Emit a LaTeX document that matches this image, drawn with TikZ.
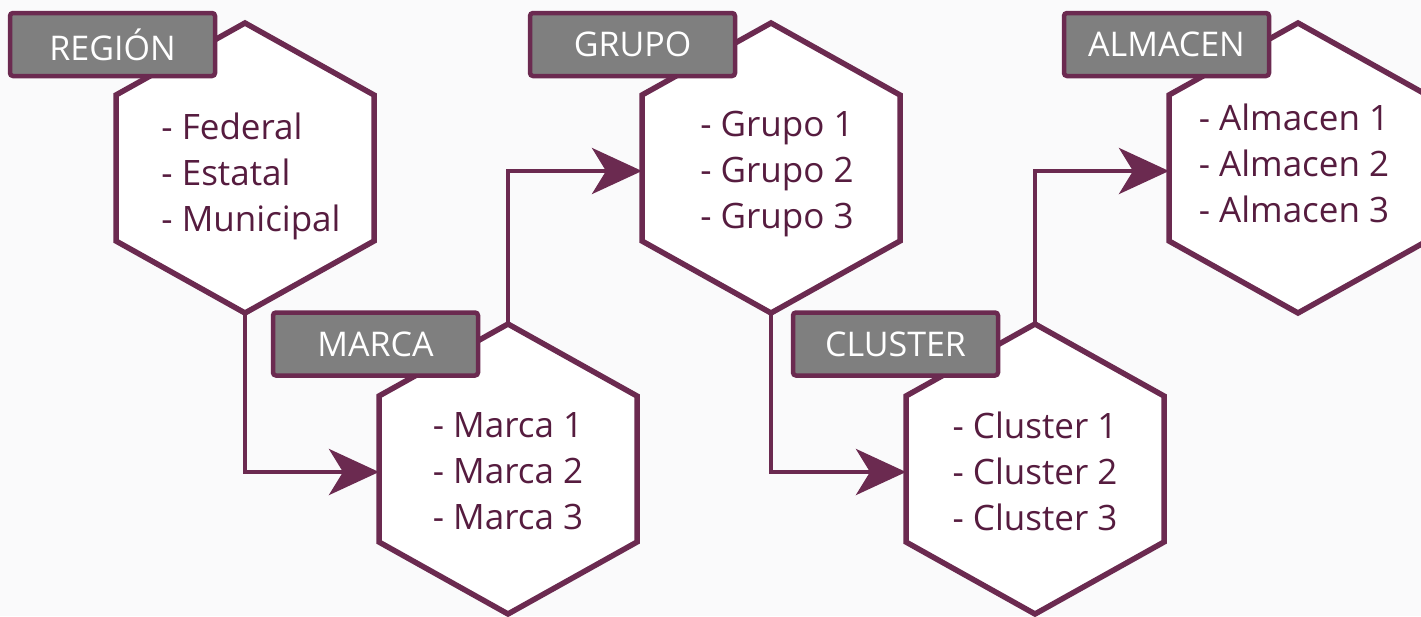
\documentclass[tikz,border=0pt]{standalone}
\usepackage{fontspec}
\setmainfont{Open Sans}
\usetikzlibrary{arrows.meta,calc}
\definecolor{plum}{HTML}{6B2A50}
\definecolor{plumtext}{HTML}{561C3F}
\definecolor{labelgray}{HTML}{7F7F7F}
\definecolor{bgcol}{HTML}{FAFAFB}
\newcommand\hexcell[3]{%
  \path[hexline] (#2,#3) +(0,-145) coordinate (#1-n) -- +(129,-73) -- +(129,73)
    -- +(0,145) coordinate (#1-s) -- +(-129,73) -- +(-129,-73) -- cycle;
  \coordinate (#1-w) at ($(#2,#3)+(-129,3)$);}
\begin{document}
\begin{tikzpicture}[x=1pt,y=-1pt,
  hexline/.style={draw=plum, line width=5.5pt, fill=white, line join=miter},
  hextext/.style={text=plumtext, font=\fontsize{35}{46}\selectfont, align=left, inner sep=0pt},
  tag/.style={draw=plum, line width=4.5pt, fill=labelgray, rounded corners=3pt,
    minimum width=205pt, minimum height=63pt, inner sep=0pt, text=white,
    font=\fontsize{34}{40}\selectfont},
  conn/.style={draw=plum, line width=4.5pt, -{Stealth[length=50pt,width=46pt,inset=14pt]}}]
\fill[bgcol] (0,0) rectangle (1421,616);
\useasboundingbox (0,0) rectangle (1421,616);
\clip (0,0) rectangle (1421,616);
% hexagons
\hexcell{h1}{245}{168}
\hexcell{h2}{508}{469}
\hexcell{h3}{771}{168}
\hexcell{h4}{1035}{469}
\hexcell{h5}{1298}{168}
% connectors
\draw[conn] (h1-s) |- (h2-w);
\draw[conn] (h2-n) |- (h3-w);
\draw[conn] (h3-s) |- (h4-w);
\draw[conn] (h4-n) |- (h5-w);
% texts
\node[hextext] (t1) at (251,176) {- Federal\\- Estatal\\- Municipal};
\node[hextext] (t2) at (508,471) {- Marca 1\\- Marca 2\\- Marca 3};
\node[hextext] (t3) at (777,174) {- Grupo 1\\- Grupo 2\\- Grupo 3};
\node[hextext] (t4) at (1035,471) {- Cluster 1\\- Cluster 2\\- Cluster 3};
\node[hextext] (t5) at (1294,163) {- Almacen 1\\- Almacen 2\\- Almacen 3};
% labels
\node[tag] (l1) at (112.5,44.5) {REGIÓN};
\node[tag] (l2) at (375.5,344) {MARCA};
\node[tag] (l3) at (632.5,44.5) {GRUPO};
\node[tag] (l4) at (895.5,344) {CLUSTER};
\node[tag] (l5) at (1166.5,44.5) {ALMACEN};
\end{tikzpicture}
\end{document}
